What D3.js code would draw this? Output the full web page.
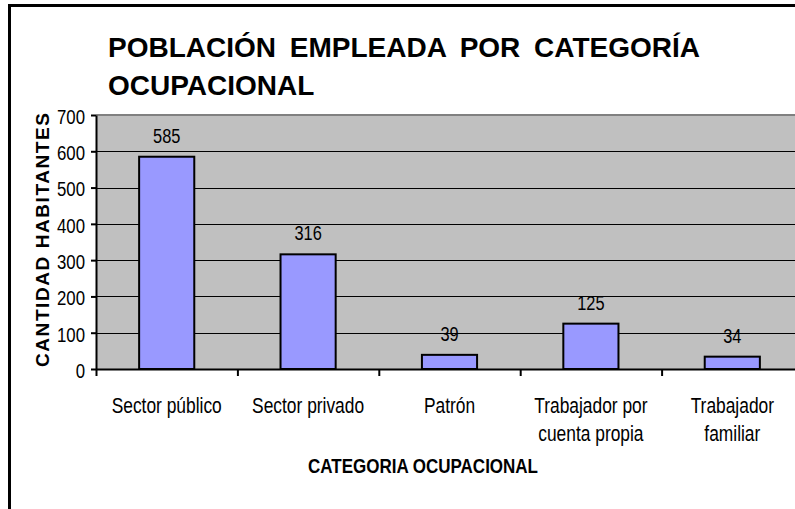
<!doctype html>
<html>
<head>
<meta charset="utf8">
<script src="https://d3js.org/d3.v7.min.js"></script>
<style>
    body { margin: 0; background: #fff; }
    svg { display: block; font-family: "Liberation Sans", Arial, sans-serif; }
</style>
</head>
<body>
<svg width="795" height="509"></svg>
<script>
    var categories = ["Sector público", "Sector privado", "Patrón", "Trabajador por|cuenta propia", "Trabajador|familiar"];
    var values = [585, 316, 39, 125, 34];
    var yTicks = [0, 100, 200, 300, 400, 500, 600, 700];

    var svg = d3.select("svg");
    var pLeft = 96, pRight = 803, pTop = 115, pBottom = 369;
    var narrow = 0.79;

    // chart frame
    svg.append("rect")
       .attr("x", 9.5).attr("y", 5.5)
       .attr("width", 820).attr("height", 540)
       .attr("fill", "#fff").attr("stroke", "#000").attr("stroke-width", 3);

    svg.append("text")
       .attr("x", 108).attr("y", 57)
       .attr("font-size", "28px").attr("font-weight", "bold")
       .attr("word-spacing", "6px")
       .text("POBLACIÓN EMPLEADA POR CATEGORÍA");
    svg.append("text")
       .attr("x", 108).attr("y", 95)
       .attr("font-size", "28px").attr("font-weight", "bold")
       .text("OCUPACIONAL");

    var x = d3.scaleBand().domain(categories).range([pLeft, pRight])
              .paddingInner(0.61).paddingOuter(0.305);
    var xi = d3.scaleLinear().domain([0, categories.length]).range([pLeft, pRight]);
    var y = d3.scaleLinear().domain([0, 700]).range([pBottom, pTop]);

    // plot area
    svg.append("rect")
       .attr("x", pLeft).attr("y", pTop)
       .attr("width", pRight - pLeft).attr("height", pBottom - pTop)
       .attr("fill", "#c0c0c0");
    svg.append("line")
       .attr("x1", pLeft).attr("x2", pRight)
       .attr("y1", y(700)).attr("y2", y(700))
       .attr("stroke", "#808080").attr("stroke-width", 2);

    svg.selectAll(".grid")
       .data(yTicks.slice(1, -1))
       .enter().append("line")
       .attr("class", "grid")
       .attr("x1", pLeft).attr("x2", pRight)
       .attr("y1", function(d) { return Math.round(y(d)) + 0.5; })
       .attr("y2", function(d) { return Math.round(y(d)) + 0.5; })
       .attr("stroke", "#000").attr("stroke-width", 1);

    svg.selectAll(".bar")
       .data(values)
       .enter().append("rect")
       .attr("class", "bar")
       .attr("x", function(d, i) { return x(categories[i]); })
       .attr("y", function(d) { return y(d); })
       .attr("width", x.bandwidth())
       .attr("height", function(d) { return y(0) - y(d); })
       .attr("fill", "#9999ff").attr("stroke", "#000").attr("stroke-width", 2);

    svg.selectAll(".val")
       .data(values)
       .enter().append("text")
       .attr("class", "val")
       .attr("transform", function(d, i) {
           return "translate(" + (x(categories[i]) + x.bandwidth() / 2) + "," + (y(d) - 14) + ") scale(0.78,1)";
       })
       .attr("text-anchor", "middle")
       .attr("font-size", "21px")
       .text(function(d) { return d; });

    // y axis
    var gy = svg.append("g")
       .attr("transform", "translate(" + pLeft + ",0)")
       .call(d3.axisLeft(y).tickValues(yTicks).tickSize(5).tickSizeOuter(0));
    gy.select(".domain").attr("stroke-width", 2);
    gy.selectAll(".tick line").attr("stroke-width", 2);
    gy.selectAll(".tick text")
       .attr("font-size", "21px").attr("fill", "#000")
       .attr("x", null).attr("dy", "0.4em")
       .attr("transform", "translate(-11,0) scale(0.8,1)");
    gy.attr("font-family", null);

    // x axis
    var gx = svg.append("g")
       .attr("transform", "translate(0," + pBottom + ")")
       .call(d3.axisBottom(xi).ticks(categories.length).tickSize(7).tickSizeOuter(0).tickFormat(""));
    gx.select(".domain").attr("stroke-width", 2);
    gx.selectAll(".tick line").attr("stroke-width", 2);

    svg.selectAll(".xlab")
       .data(categories)
       .enter().append("text")
       .attr("class", "xlab")
       .attr("transform", function(d) {
           return "translate(" + (x(d) + x.bandwidth() / 2) + ",413) scale(" + narrow + ",1)";
       })
       .attr("text-anchor", "middle")
       .attr("font-size", "22px")
       .each(function(d) {
           var t = d3.select(this);
           d.split("|").forEach(function(line, k) {
               t.append("tspan").attr("x", 0).attr("y", k * 28).text(line);
           });
       });

    svg.append("text")
       .attr("transform", "translate(423,473) scale(0.85,1)")
       .attr("text-anchor", "middle")
       .attr("font-size", "20px").attr("font-weight", "bold")
       .text("CATEGORIA OCUPACIONAL");

    svg.append("text")
       .attr("transform", "translate(49,240) rotate(-90)")
       .attr("text-anchor", "middle")
       .attr("font-size", "19px").attr("font-weight", "bold")
       .attr("textLength", 254).attr("lengthAdjust", "spacing")
       .text("CANTIDAD HABITANTES");
</script>
</body>
</html>
